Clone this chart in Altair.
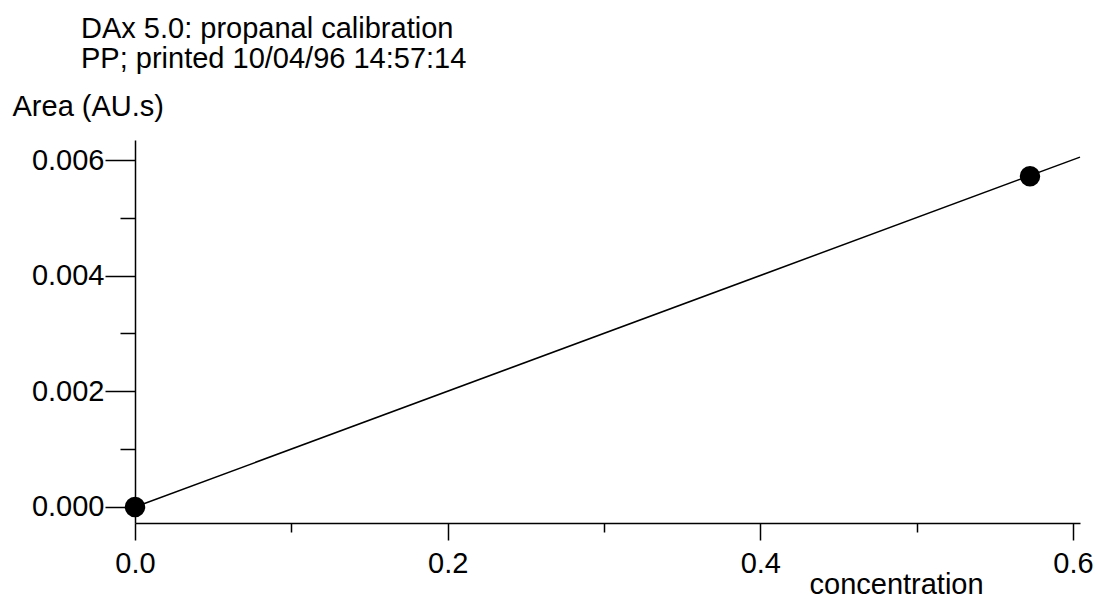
import altair as alt
import pandas as pd

# Calibration standards: concentration vs. peak area
conc = [0.0, 0.5725]
area = [0.0, 0.00572]

# Fitted calibration line (end points across the plotted range)
fit_conc = [0.0, 0.6045]
fit_area = [0.0, 0.00605]

# Axis ticks
x_ticks = [0.0, 0.1, 0.2, 0.3, 0.4, 0.5, 0.6]
y_ticks = [0.0, 0.001, 0.002, 0.003, 0.004, 0.005, 0.006]

title_lines = ["DAx 5.0: propanal calibration", "PP; printed 10/04/96 14:57:14"]

FONT = "Liberation Sans"
FS = 29

points = pd.DataFrame({"concentration": conc, "area": area})
fit = pd.DataFrame({"concentration": fit_conc, "area": fit_area})

x_scale = alt.Scale(domain=[0.0, 0.6045], nice=False, zero=False)
y_scale = alt.Scale(domain=[-0.000277, 0.006346], nice=False, zero=False)

x_major = "round(datum.value * 10) % 2 == 0"
y_major = "round(datum.value * 1000) % 2 == 0"

x_axis = alt.Axis(
    values=x_ticks,
    labelExpr=f"{x_major} ? format(datum.value, '.1f') : ''",
    tickSize={"condition": {"test": x_major, "value": 17}, "value": 9},
    labelPadding=32,
    labelBaseline="alphabetic",
    labelAlign="center",
    labelFont=FONT,
    labelFontSize=FS,
    labelColor="black",
    domainColor="black",
    domainWidth=1.5,
    tickColor="black",
    tickWidth=1.5,
    grid=False,
    title="concentration",
    titleFont=FONT,
    titleFontSize=FS,
    titleFontWeight="normal",
    titleColor="black",
    titleAlign="left",
    titleBaseline="alphabetic",
    titleAngle=0,
    titleX=674,
    titleY=70,
)

y_axis = alt.Axis(
    values=y_ticks,
    labelExpr=f"{y_major} ? format(datum.value, '.3f') : ''",
    tickSize={"condition": {"test": y_major, "value": 30}, "value": 15},
    labelPadding=1,
    labelBaseline="middle",
    labelFont=FONT,
    labelFontSize=FS,
    labelColor="black",
    domainColor="black",
    domainWidth=1.5,
    tickColor="black",
    tickWidth=1.5,
    grid=False,
    title="Area (AU.s)",
    titleFont=FONT,
    titleFontSize=FS,
    titleFontWeight="normal",
    titleColor="black",
    titleAlign="left",
    titleBaseline="alphabetic",
    titleAngle=0,
    titleX=-123,
    titleY=-25,
)

line = alt.Chart(fit).mark_line(color="black", strokeWidth=1.5).encode(
    x=alt.X("concentration:Q", scale=x_scale, axis=x_axis),
    y=alt.Y("area:Q", scale=y_scale, axis=y_axis),
)

dots = alt.Chart(points).mark_circle(color="black", opacity=1, size=420).encode(
    x=alt.X("concentration:Q", scale=x_scale),
    y=alt.Y("area:Q", scale=y_scale),
)

chart = (
    alt.layer(line, dots)
    .properties(
        width=945,
        height=383,
        padding={"left": 135, "top": 140, "right": 20, "bottom": 76},
        autosize=alt.AutoSizeParams(type="none"),
        background="white",
        title=alt.TitleParams(
            text=title_lines,
            anchor="start",
            frame="group",
            orient="top",
            font=FONT,
            fontSize=FS,
            fontWeight="normal",
            color="black",
            lineHeight=30,
            dx=-54,
            offset=18,
        ),
    )
    .configure_view(stroke=None)
)

chart.save("out.html", embed_options={"renderer": "svg", "actions": False})
